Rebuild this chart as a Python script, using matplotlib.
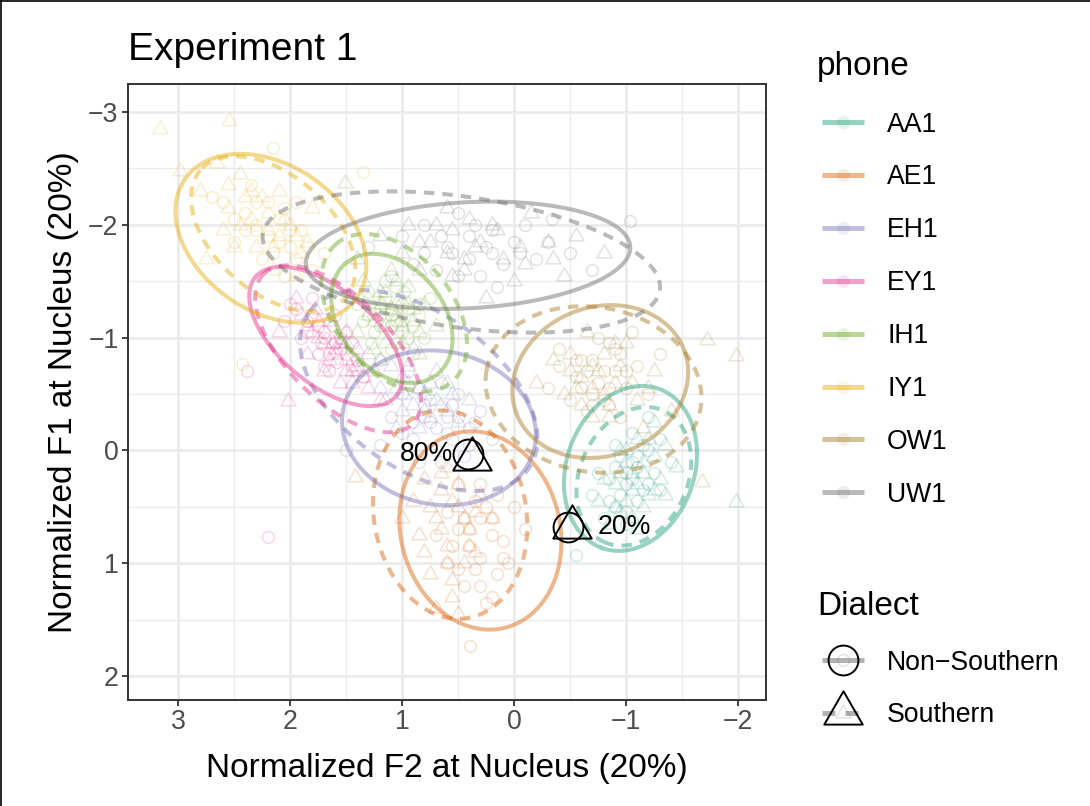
import numpy as np
import matplotlib.pyplot as plt
from matplotlib.path import Path

plt.rcParams['font.family'] = ['Liberation Sans', 'DejaVu Sans']

phones = ['AA1', 'AE1', 'EH1', 'EY1', 'IH1', 'IY1', 'OW1', 'UW1']
colors = ['#1B9E77', '#D95F02', '#7570B3', '#E7298A', '#66A61E', '#E6AB02', '#A6761D', '#666666']

# ellipse summaries (F2 centre, F1 centre, semi-major, semi-minor, angle deg)
ns_f2 = [-1.04, 0.30, 0.67, 1.68, 1.09, 2.17, -0.77, 0.41]
ns_f1 = [0.16, 0.71, -0.20, -1.01, -1.17, -1.88, -0.61, -1.73]
ns_a = [0.75, 0.89, 0.87, 0.82, 0.64, 0.93, 0.80, 1.45]
ns_b = [0.57, 0.71, 0.68, 0.42, 0.46, 0.65, 0.66, 0.47]
ns_ang = [70, -75, -10, -40, -50, -34, 20, 3]

s_f2 = [-1.07, 0.57, 0.85, 1.57, 1.07, 2.15, -0.71, 0.47]
s_f1 = [0.23, 0.57, -0.53, -0.90, -1.22, -1.92, -0.54, -1.67]
s_a = [0.64, 0.93, 1.20, 0.94, 0.80, 0.86, 0.97, 1.79]
s_b = [0.48, 0.68, 0.69, 0.46, 0.52, 0.52, 0.73, 0.58]
s_ang = [65, -80, -35, -45, -50, -41, -10, -8]

# individual tokens (F2, F1)
aa1_ns = [(-0.9, 0.5), (-1.0, 0.3), (-1.1, 0.15), (-1.2, 0.0), (-0.95, 0.05), (-1.15, 0.35),
          (-0.85, 0.25), (-1.3, -0.1), (-1.05, -0.15), (-0.8, 0.6), (-1.25, 0.2), (-0.7, 0.4),
          (-1.0, 0.55), (-0.55, 0.93), (-1.4, 0.1), (-0.9, -0.05), (-1.1, 0.45), (-1.2, -0.3),
          (-1.0, 0.2), (-0.95, 0.4), (-1.1, 0.05), (-1.05, 0.25), (-0.9, 0.15), (-1.2, 0.3),
          (-0.85, 0.45), (-1.15, -0.05), (-1.0, 0.65), (-0.75, 0.2), (-1.3, 0.35), (-1.05, 0.1)]
aa1_s = [(-0.95, 0.55), (-1.05, 0.35), (-1.15, 0.2), (-1.25, 0.05), (-1.0, 0.1), (-1.2, 0.4),
         (-0.9, 0.3), (-1.35, -0.05), (-1.1, -0.1), (-0.85, 0.65), (-1.3, 0.25), (-0.75, 0.45),
         (-1.05, 0.6), (-1.98, 0.46), (-1.45, 0.15), (-0.95, 0.0), (-1.15, 0.5), (-1.25, -0.25),
         (-1.05, 0.2), (-1.0, 0.45), (-1.15, 0.1), (-1.1, 0.3), (-0.95, 0.2), (-1.25, 0.35),
         (-0.9, 0.5), (-1.2, -0.1), (-1.1, 0.7), (-0.8, 0.25), (-1.35, 0.4), (-1.0, 0.0)]
ae1_ns = [(0.5, 0.3), (0.35, 0.45), (0.2, 0.6), (0.4, 0.7), (0.1, 0.8), (0.3, 0.95),
          (0.55, 0.85), (0.15, 1.1), (0.45, 1.2), (0.0, 0.5), (0.6, 0.55), (0.25, 1.35),
          (0.39, 1.73), (0.05, 1.0), (0.5, 1.05), (0.3, 0.3), (0.7, 0.75), (-0.1, 0.7),
          (0.3, 0.6), (0.4, 0.85), (0.2, 0.75), (0.35, 1.05), (0.25, 0.5), (0.45, 0.6),
          (0.1, 0.95), (0.3, 1.2), (0.5, 0.7), (0.2, 1.3), (0.6, 1.0), (0.15, 0.4)]
ae1_s = [(0.8, 0.25), (0.65, 0.35), (0.5, 0.5), (0.7, 0.6), (0.4, 0.7), (0.6, 0.85),
         (0.85, 0.75), (0.45, 1.0), (0.75, 1.1), (0.3, 0.4), (0.9, 0.45), (0.55, 1.3),
         (0.35, 0.9), (1.42, 0.24), (0.6, 0.15), (0.2, 0.6), (0.7, 1.4), (1.0, 0.6),
         (0.55, 0.45), (0.65, 0.7), (0.45, 0.6), (0.6, 1.0), (0.5, 0.3), (0.75, 0.5),
         (0.4, 0.85), (0.55, 1.15), (0.8, 0.9), (0.35, 0.55), (0.65, 0.2), (0.5, 1.45)]
eh1_ns = [(1.0, -0.5), (0.8, -0.4), (0.6, -0.3), (0.4, -0.2), (0.9, -0.1), (0.7, 0.0),
          (0.5, -0.5), (1.1, -0.3), (0.3, -0.35), (0.65, -0.6), (0.85, 0.1), (0.45, 0.05),
          (1.2, -0.05), (0.55, -0.1), (0.75, -0.25), (1.5, 0.0), (0.2, -0.1), (0.95, -0.7),
          (0.7, -0.2), (0.6, -0.15), (0.8, -0.3), (0.5, -0.3), (0.75, -0.45), (0.9, -0.25),
          (0.4, -0.05), (0.65, 0.1), (1.0, -0.15), (0.55, -0.4), (0.85, -0.55), (0.35, -0.25)]
eh1_s = [(1.3, -0.85), (1.1, -0.75), (0.95, -0.6), (0.8, -0.5), (0.65, -0.4), (1.0, -0.35),
         (0.7, -0.7), (1.2, -0.55), (0.5, -0.25), (0.85, -0.2), (1.4, -0.7), (0.6, -0.6),
         (0.9, -0.9), (1.05, -0.2), (0.4, -0.45), (0.75, -0.3), (1.5, -0.95), (0.98, -0.5),
         (0.85, -0.55), (0.9, -0.4), (0.75, -0.6), (1.0, -0.65), (0.7, -0.45), (1.15, -0.45),
         (0.6, -0.35), (0.95, -0.75), (0.8, -0.35), (1.2, -0.8), (0.55, -0.5), (1.05, -0.55)]
ey1_ns = [(2.0, -1.3), (1.85, -1.15), (1.7, -1.05), (1.55, -0.9), (1.4, -0.8), (1.75, -0.85),
          (1.6, -1.2), (1.9, -1.0), (1.5, -1.05), (1.65, -0.7), (1.8, -1.35), (1.35, -0.65),
          (2.2, 0.77), (2.38, -0.70), (1.45, -0.95), (1.72, -0.95), (1.58, -0.78), (2.05, -1.15),
          (1.7, -1.0), (1.6, -0.95), (1.75, -1.1), (1.5, -0.85), (1.85, -1.05), (1.65, -0.85),
          (1.55, -1.0), (1.8, -1.2), (1.45, -0.75), (1.95, -1.25), (1.62, -1.1), (1.7, -0.75)]
ey1_s = [(2.02, -0.44), (1.9, -1.2), (1.75, -1.0), (1.6, -0.85), (1.45, -0.7), (1.3, -0.55),
         (1.7, -0.7), (1.5, -1.05), (1.85, -0.85), (1.2, -0.45), (1.65, -1.15), (1.4, -0.9),
         (1.95, -1.35), (1.55, -0.6), (1.25, -0.7), (1.78, -1.25), (1.62, -0.95), (2.1, -1.05),
         (1.6, -0.9), (1.5, -0.8), (1.7, -0.95), (1.4, -0.75), (1.8, -1.05), (1.55, -0.95),
         (1.45, -0.6), (1.65, -0.8), (1.35, -0.65), (1.75, -1.15), (1.5, -0.7), (1.85, -1.1)]
ih1_ns = [(1.3, -1.4), (1.2, -1.25), (1.1, -1.1), (0.95, -1.0), (1.0, -1.3), (1.25, -1.05),
          (0.85, -1.2), (1.15, -1.5), (0.9, -0.85), (1.35, -1.15), (1.05, -0.95), (0.8, -1.0),
          (1.2, -0.8), (1.4, -1.3), (0.98, -1.4), (1.1, -1.25), (1.28, -0.95), (0.75, -1.35),
          (1.1, -1.2), (1.05, -1.15), (1.2, -1.1), (0.95, -1.25), (1.15, -1.35), (1.0, -1.05),
          (1.25, -1.25), (0.9, -1.1), (1.1, -0.9), (1.3, -1.2), (1.05, -1.45), (0.85, -1.3)]
ih1_s = [(1.51, -2.37), (1.35, -1.5), (1.2, -1.4), (1.05, -1.3), (0.9, -1.15), (1.15, -1.1),
         (1.3, -1.2), (0.95, -1.45), (1.0, -0.95), (1.25, -0.9), (0.8, -1.3), (1.4, -1.05),
         (1.1, -1.6), (0.85, -0.85), (1.18, -1.3), (1.45, -1.35), (0.7, -1.1), (1.02, -1.15),
         (1.1, -1.25), (1.05, -1.2), (1.2, -1.3), (0.95, -1.3), (1.15, -1.4), (1.0, -1.1),
         (1.25, -1.15), (0.9, -1.25), (1.15, -0.95), (1.3, -1.35), (1.05, -1.5), (0.85, -1.05)]
iy1_ns = [(2.15, -2.68), (1.35, -2.47), (2.6, -2.2), (2.4, -2.1), (2.3, -1.95), (2.1, -2.05),
          (2.0, -1.8), (1.9, -1.95), (2.5, -1.85), (2.25, -1.7), (1.8, -1.6), (2.7, -2.25),
          (2.05, -1.55), (1.7, -1.75), (2.35, -2.35), (1.95, -2.2), (2.43, -0.77), (1.6, -1.45),
          (2.2, -1.9), (2.3, -2.0), (2.1, -1.85), (2.2, -2.2), (2.0, -1.95), (2.4, -1.95),
          (1.95, -1.7), (2.15, -1.75), (2.5, -2.05), (1.85, -1.8), (2.3, -2.2), (2.05, -2.15)]
iy1_s = [(3.16, -2.85), (2.54, -2.92), (2.98, -2.48), (2.8, -2.3), (2.55, -2.15), (2.4, -2.25),
         (2.2, -2.1), (2.6, -1.95), (2.0, -2.0), (2.3, -1.8), (1.85, -1.85), (2.15, -1.6),
         (2.75, -1.7), (1.8, -2.15), (2.45, -2.45), (1.95, -1.55), (2.1, -2.3), (2.65, -2.55),
         (2.2, -1.95), (2.35, -2.05), (2.1, -1.9), (2.25, -2.25), (2.05, -2.05), (2.45, -2.0),
         (1.9, -1.75), (2.15, -1.8), (2.55, -2.35), (1.95, -1.9), (2.35, -2.3), (2.5, -1.8)]
ow1_ns = [(-0.4, -0.75), (-0.6, -0.8), (-0.8, -0.7), (-1.0, -0.55), (-0.7, -0.5), (-0.5, -0.45),
          (-0.9, -0.9), (-1.1, -0.75), (-0.65, -0.35), (-0.85, -0.4), (-1.2, -0.5), (-0.3, -0.55),
          (-0.75, -1.0), (-1.3, -0.85), (-0.55, -0.65), (-0.95, -0.3), (-0.4, -0.9), (-1.05, -1.05),
          (-0.75, -0.6), (-0.65, -0.7), (-0.85, -0.55), (-0.7, -0.8), (-0.9, -0.7), (-0.6, -0.55),
          (-0.8, -0.45), (-1.0, -0.7), (-0.55, -0.8), (-0.95, -0.85), (-0.7, -0.4), (-0.85, -0.95)]
ow1_s = [(-1.72, -0.98), (-1.98, -0.84), (-1.68, 0.28), (-0.5, -0.7), (-0.7, -0.75), (-0.9, -0.6),
         (-1.1, -0.45), (-0.6, -0.4), (-0.8, -0.85), (-1.0, -0.95), (-0.45, -0.5), (-1.25, -0.7),
         (-0.85, -0.3), (-0.35, -0.8), (-1.15, -0.2), (-0.65, -1.05), (-1.4, -0.35), (-0.2, -0.6),
         (-0.7, -0.55), (-0.6, -0.65), (-0.8, -0.5), (-0.75, -0.7), (-0.95, -0.75), (-0.55, -0.55),
         (-0.85, -0.4), (-1.05, -0.6), (-0.5, -0.85), (-0.9, -0.95), (-0.7, -0.3), (-1.2, -0.55)]
uw1_ns = [(-1.04, -2.03), (-0.34, -2.05), (1.3, -1.8), (1.0, -1.9), (0.8, -2.0), (0.6, -1.8),
          (0.4, -1.9), (0.2, -1.75), (0.0, -1.85), (-0.2, -1.7), (-0.5, -1.75), (0.7, -1.6),
          (0.3, -1.55), (-0.1, -2.0), (0.5, -2.1), (1.1, -1.55), (-0.7, -1.6), (0.15, -1.45),
          (0.4, -1.7), (0.55, -1.75), (0.25, -1.8), (0.65, -1.9), (0.1, -1.65), (0.8, -1.75),
          (-0.05, -1.75), (0.35, -2.0), (0.9, -1.65), (-0.3, -1.85), (0.5, -1.55), (0.2, -1.95)]
uw1_s = [(1.2, -1.9), (0.95, -2.0), (0.75, -1.85), (0.55, -1.95), (0.35, -1.8), (0.15, -1.95),
         (-0.05, -1.8), (-0.3, -1.85), (-0.55, -1.9), (0.85, -1.6), (0.45, -1.6), (0.0, -1.5),
         (-0.45, -1.55), (-0.8, -1.75), (0.6, -2.15), (-0.15, -2.1), (1.4, -1.7), (0.25, -1.35),
         (0.45, -1.7), (0.6, -1.75), (0.3, -1.85), (0.7, -2.0), (0.1, -1.7), (0.85, -1.85),
         (-0.1, -1.65), (0.4, -2.05), (1.0, -1.75), (-0.35, -1.7), (0.55, -1.55), (0.2, -2.0)]

tokens_ns = [aa1_ns, ae1_ns, eh1_ns, ey1_ns, ih1_ns, iy1_ns, ow1_ns, uw1_ns]
tokens_s = [aa1_s, ae1_s, eh1_s, ey1_s, ih1_s, iy1_s, ow1_s, uw1_s]

# highlighted token at 20% / 80%
pct_labels = ['80%', '20%']
big_circ_f2 = [0.41, -0.48]
big_circ_f1 = [0.035, 0.68]
big_tri_f2 = [0.375, -0.52]
big_tri_f1 = [0.08, 0.68]

tri = Path([(0, 1), (-0.866, -0.5), (0.866, -0.5), (0, 1)],
           [Path.MOVETO, Path.LINETO, Path.LINETO, Path.CLOSEPOLY])


def ellipse_xy(cx, cy, a, b, ang):
    t = np.linspace(0, 2 * np.pi, 300)
    r = np.deg2rad(ang)
    x = cx + a * np.cos(t) * np.cos(r) - b * np.sin(t) * np.sin(r)
    y = cy + a * np.cos(t) * np.sin(r) + b * np.sin(t) * np.cos(r)
    return x, y


fig = plt.figure(figsize=(10.9, 8.06), dpi=100)
ax = fig.add_axes([128 / 1090, 1 - 700 / 806, 638 / 1090, 616 / 806])

for i, p in enumerate(phones):
    c = colors[i]
    pts = np.array(tokens_ns[i])
    ax.plot(pts[:, 0], pts[:, 1], ls='none', marker='o', ms=8.5, mfc='none',
            mec=c, mew=1.0, alpha=0.2, zorder=2)
    pts = np.array(tokens_s[i])
    ax.plot(pts[:, 0], pts[:, 1], ls='none', marker=tri, ms=12.5, mfc='none',
            mec=c, mew=1.0, alpha=0.2, zorder=2)

for i, p in enumerate(phones):
    c = colors[i]
    x, y = ellipse_xy(ns_f2[i], ns_f1[i], ns_a[i], ns_b[i], ns_ang[i])
    ax.plot(x, y, color=c, lw=2.9, alpha=0.45, zorder=3)
    x, y = ellipse_xy(s_f2[i], s_f1[i], s_a[i], s_b[i], s_ang[i])
    ax.plot(x, y, color=c, lw=2.9, alpha=0.45, dashes=(2.6, 2.0), zorder=3)

ax.plot(big_circ_f2, big_circ_f1, ls='none', marker='o', ms=21.5, mfc='none',
        mec='black', mew=1.4, zorder=5)
ax.plot(big_tri_f2, big_tri_f1, ls='none', marker=tri, ms=32, mfc='none',
        mec='black', mew=1.4, zorder=5)
ax.annotate(pct_labels[0], (big_circ_f2[0], big_circ_f1[0]), xytext=(-11, 0),
            textcoords='offset points', ha='right', va='center', fontsize=19.2)
ax.annotate(pct_labels[1], (big_tri_f2[1], big_tri_f1[1]), xytext=(18, 0),
            textcoords='offset points', ha='left', va='center', fontsize=19.2)

ax.set_xlim(3.446, -2.25)
ax.set_ylim(2.213, -3.248)
ax.set_xticks([3, 2, 1, 0, -1, -2])
ax.set_yticks([-3, -2, -1, 0, 1, 2])
ax.set_xticks(np.arange(-2, 3.5, 0.5), minor=True)
ax.set_yticks(np.arange(-3, 2.5, 0.5), minor=True)
ax.grid(which='major', color='#EBEBEB', lw=1.9, zorder=0)
ax.grid(which='minor', color='#EBEBEB', lw=0.95, zorder=0)
ax.set_axisbelow(True)
ax.tick_params(which='major', length=4.3, width=1.3, color='#333333',
               labelsize=19.2, labelcolor='#4D4D4D', pad=2.5)
ax.tick_params(which='minor', length=0)
for s in ax.spines.values():
    s.set_color('#333333')
    s.set_linewidth(1.4)

ax.set_xlabel('Normalized F2 at Nucleus (20%)', fontsize=24, labelpad=13)
ax.set_ylabel('Normalized F1 at Nucleus (20%)', fontsize=24, labelpad=6.5)
ax.set_title('Experiment 1', loc='left', fontsize=28, pad=17)

# legends, drawn in pixel space
lax = fig.add_axes([0, 0, 1, 1], zorder=-1)
lax.set_xlim(0, 1090)
lax.set_ylim(806, 0)
lax.axis('off')

lax.text(817, 75, 'phone', fontsize=24, va='baseline')
for i, p in enumerate(phones):
    yk = 122 + 52.9 * i
    lax.plot([822, 864], [yk, yk], color=colors[i], lw=3.6, alpha=0.45,
             solid_capstyle='butt')
    lax.plot(843, yk, marker='o', ms=9.5, color=colors[i], alpha=0.12, mew=0)
    lax.text(887, yk + 9.5, p, fontsize=19.2, va='baseline')

lax.text(817, 615, 'Dialect', fontsize=24, va='baseline')
dialects = ['Non\u2212Southern', 'Southern']
for j, d in enumerate(dialects):
    yk = 660 + 53 * j
    if j == 0:
        lax.plot([822, 864], [yk, yk], color='#666666', lw=3.6, alpha=0.5,
                 solid_capstyle='butt')
        lax.plot(843, yk, marker='o', ms=8.5, mfc='none', mec='#666666', alpha=0.2)
        lax.plot(843, yk, marker='o', ms=21.5, mfc='none', mec='black', mew=1.4)
    else:
        lax.plot([822, 864], [yk, yk], color='#666666', lw=3.6, alpha=0.5,
                 dashes=(2.6, 2.0))
        lax.plot(843, yk, marker=tri, ms=12.5, mfc='none', mec='#666666', alpha=0.2)
        lax.plot(843, yk, marker=tri, ms=32, mfc='none', mec='black', mew=1.4)
    lax.text(887, yk + 9.5, d, fontsize=19.2, va='baseline')

lax.plot([0, 1090], [1, 1], color='black', lw=1.2)
lax.plot([1, 1], [0, 806], color='black', lw=1.2)

fig.savefig('out.png', dpi=100)
